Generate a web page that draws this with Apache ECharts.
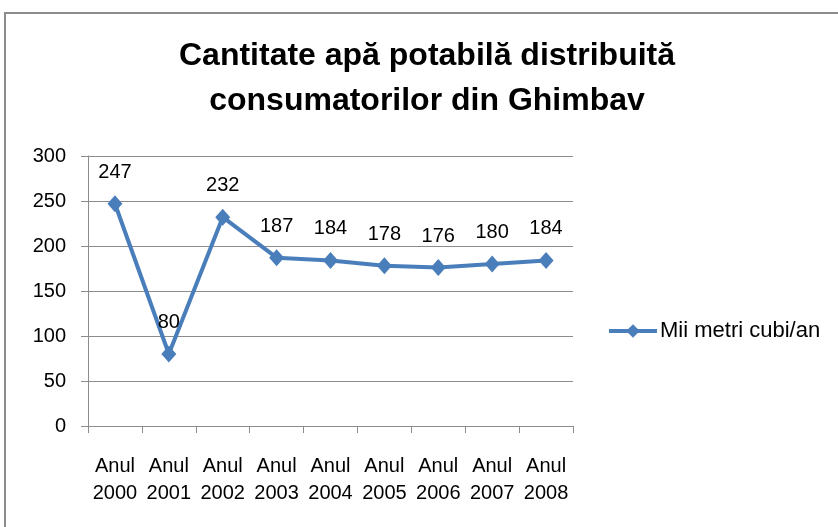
<!DOCTYPE html>
<html>
<head>
<meta charset="utf-8">
<script src="https://cdn.jsdelivr.net/npm/echarts@6/dist/echarts.min.js"></script>
<style>
  html, body { margin: 0; padding: 0; background: #fff; }
  #chart { width: 838px; height: 527px; }
</style>
</head>
<body>
<div id="chart"></div>
<script>
// date
const years = ['2000', '2001', '2002', '2003', '2004', '2005', '2006', '2007', '2008'];
const categories = years.map(y => 'Anul\n' + y);
const values = [247, 80, 232, 187, 184, 178, 176, 180, 184];
const yTicks = [0, 50, 100, 150, 200, 250, 300];
const seriesName = 'Mii metri cubi/an';

const blue = '#4a7ebb';
const gray = '#8c8c8c';
const font = 'Liberation Sans';

const chart = echarts.init(document.getElementById('chart'));

chart.setOption({
  backgroundColor: '#ffffff',
  animation: false,
  textStyle: { fontFamily: font },
  // rama graficului (sus si stanga)
  graphic: [
    {
      type: 'polyline',
      shape: { points: [[5, 527], [5, 13], [838, 13]] },
      style: { stroke: gray, lineWidth: 2, fill: null }
    }
  ],
  title: {
    text: 'Cantitate apă potabilă distribuită\nconsumatorilor din Ghimbav',
    left: 427,
    top: 34,
    padding: 0,
    textAlign: 'center',
    textStyle: {
      fontFamily: font,
      fontSize: 32,
      fontWeight: 'bold',
      color: '#000',
      lineHeight: 45
    }
  },
  legend: {
    data: [seriesName],
    left: 607,
    top: 320,
    itemWidth: 48,
    itemHeight: 17,
    itemGap: 4,
    padding: 0,
    lineStyle: { width: 4 },
    textStyle: { fontFamily: font, fontSize: 22, color: '#000', padding: [0, 0, 0, -2] }
  },
  grid: {
    left: 88,
    right: 265,
    top: 156,
    bottom: 101,
    containLabel: false
  },
  xAxis: {
    type: 'category',
    data: categories,
    boundaryGap: true,
    axisLine: { lineStyle: { color: gray, width: 1 } },
    axisTick: { show: true, length: 7, lineStyle: { color: gray } },
    axisLabel: {
      interval: 0,
      margin: 27,
      fontFamily: font,
      fontSize: 20,
      lineHeight: 27,
      color: '#000'
    },
    splitLine: { show: false }
  },
  yAxis: {
    type: 'value',
    min: yTicks[0],
    max: yTicks[yTicks.length - 1],
    interval: 50,
    axisLine: { show: true, lineStyle: { color: gray, width: 1 } },
    axisTick: { show: true, length: 7, lineStyle: { color: gray } },
    axisLabel: {
      margin: 22,
      fontFamily: font,
      fontSize: 20,
      color: '#000'
    },
    splitLine: { show: true, lineStyle: { color: gray, width: 1 } }
  },
  series: [
    {
      name: seriesName,
      type: 'line',
      data: values,
      symbol: 'diamond',
      symbolSize: [15, 17],
      itemStyle: { color: blue },
      lineStyle: { color: blue, width: 4 },
      label: {
        show: true,
        position: 'top',
        distance: 13,
        fontFamily: font,
        fontSize: 20,
        color: '#000'
      }
    }
  ]
});
</script>
</body>
</html>
